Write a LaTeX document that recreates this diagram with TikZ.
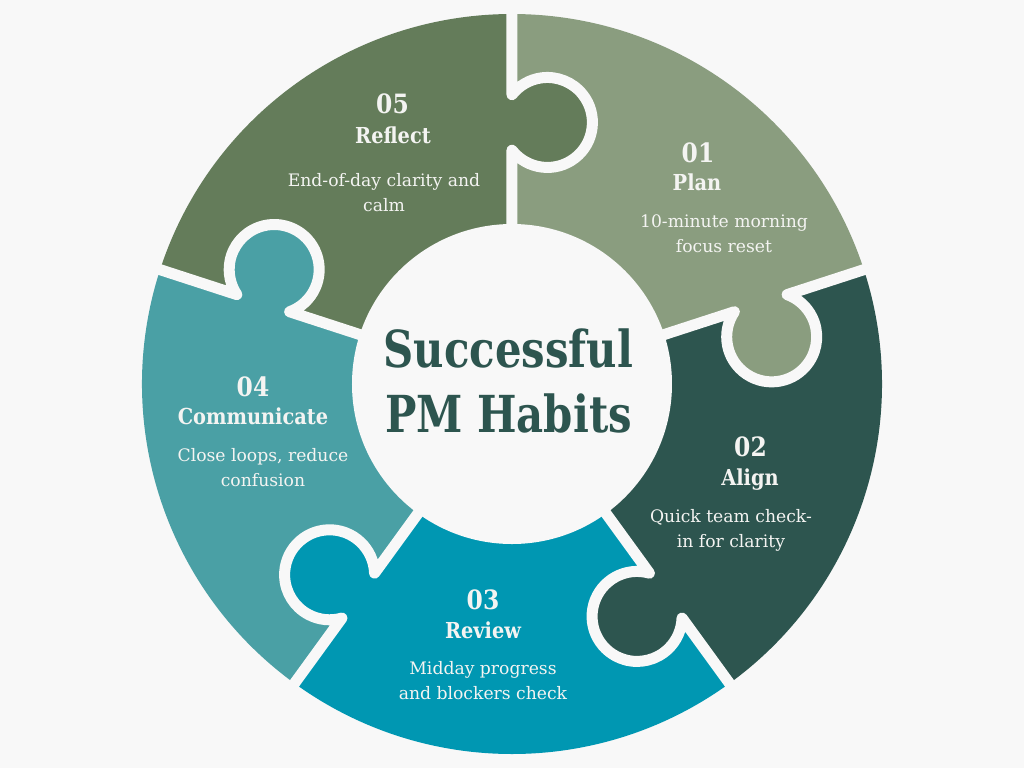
\documentclass[tikz,border=0pt]{standalone}
\usepackage{fontspec}
\setmainfont{DejaVu Serif}
\newfontfamily\labelfont{DejaVu Serif}[FakeStretch=0.88]
\newfontfamily\titlefont{DejaVu Serif}[FakeStretch=0.82]
\usepackage{xcolor}
\usepackage{tikz}

\definecolor{bgc}{HTML}{F8F8F8}
\definecolor{planc}{HTML}{8A9D7F}
\definecolor{alignc}{HTML}{2D554F}
\definecolor{reviewc}{HTML}{0097B2}
\definecolor{commc}{HTML}{4AA0A5}
\definecolor{reflectc}{HTML}{647C5A}
\definecolor{txtc}{HTML}{F4F4F2}

\begin{document}
\begin{tikzpicture}[x=0.5pt, y=0.5pt]
    \tikzstyle{gap}   = [draw=bgc, line width=5.5pt, line join=round]
    \tikzstyle{num}   = [text=txtc, anchor=base, inner sep=0pt,
                         font=\labelfont\bfseries\fontsize{13.3}{15}\selectfont]
    \tikzstyle{habit} = [text=txtc, anchor=base, inner sep=0pt,
                         font=\labelfont\bfseries\fontsize{11}{13}\selectfont]
    \tikzstyle{desc}  = [text=txtc, anchor=base, inner sep=0pt, align=center,
                         font=\fontsize{8.6}{12.5}\selectfont]
    \tikzstyle{title} = [text=alignc, anchor=base, inner sep=0pt, align=center,
                         font=\titlefont\bfseries\fontsize{25.5}{32.5}\selectfont]

    \fill[bgc] (-512,-384) rectangle (512,384);
    \useasboundingbox (-512,-384) rectangle (512,384);

    % segments
    \fill[planc]    (0,0) -- (18:370)   arc[start angle=18,   end angle=90,  radius=370] -- cycle;
    \fill[alignc]   (0,0) -- (-54:370)  arc[start angle=-54,  end angle=18,  radius=370] -- cycle;
    \fill[reviewc]  (0,0) -- (-126:370) arc[start angle=-126, end angle=-54, radius=370] -- cycle;
    \fill[commc]    (0,0) -- (162:370)  arc[start angle=162,  end angle=234, radius=370] -- cycle;
    \fill[reflectc] (0,0) -- (90:370)   arc[start angle=90,   end angle=162, radius=370] -- cycle;

    % tabs
    \begin{scope}[rotate=90]
        \fill[reflectc] (261.5,-35.5) circle[radius=45];
    \end{scope}
    \begin{scope}[rotate=18]
        \fill[planc] (261.5,-35.5) circle[radius=45];
    \end{scope}
    \begin{scope}[rotate=-54]
        \fill[alignc] (261.5,-35.5) circle[radius=45];
    \end{scope}
    \begin{scope}[rotate=-126]
        \fill[reviewc] (261.5,-35.5) circle[radius=45];
    \end{scope}
    \begin{scope}[rotate=162]
        \fill[commc] (261.5,-35.5) circle[radius=45];
    \end{scope}

    % gaps between pieces
    \foreach \a in {90, 18, -54, -126, 162} {
        \begin{scope}[rotate=\a]
            \draw[gap] (0,0) -- (233.8,0)
                arc[start angle=128.08, end angle=411.92, radius=45] -- (380,0);
        \end{scope}
    }

    % centre
    \fill[bgc] (0,0) circle[radius=160];
    \node (title) [title] at (-3.5,-48) {Successful\\PM Habits};

    % labels
    \node (num1)   [num]   at (186,222)   {01};
    \node (name1)  [habit] at (185,194)   {Plan};
    \node (desc1)  [desc]  at (212,132)   {10-minute morning\\focus reset};

    \node (num2)   [num]   at (238.5,-72) {02};
    \node (name2)  [habit] at (238,-101)  {Align};
    \node (desc2)  [desc]  at (219,-163)  {Quick team check-\\in for clarity};

    \node (num3)   [num]   at (-29,-225)  {03};
    \node (name3)  [habit] at (-29,-254)  {Review};
    \node (desc3)  [desc]  at (-29,-315)  {Midday progress\\and blockers check};

    \node (num4)   [num]   at (-259,-12)  {04};
    \node (name4)  [habit] at (-259,-40)  {Communicate};
    \node (desc4)  [desc]  at (-249,-102) {Close loops, reduce\\confusion};

    \node (num5)   [num]   at (-119.5,271) {05};
    \node (name5)  [habit] at (-119,241)  {Reflect};
    \node (desc5)  [desc]  at (-128,173)  {End-of-day clarity and\\calm};
\end{tikzpicture}
\end{document}
